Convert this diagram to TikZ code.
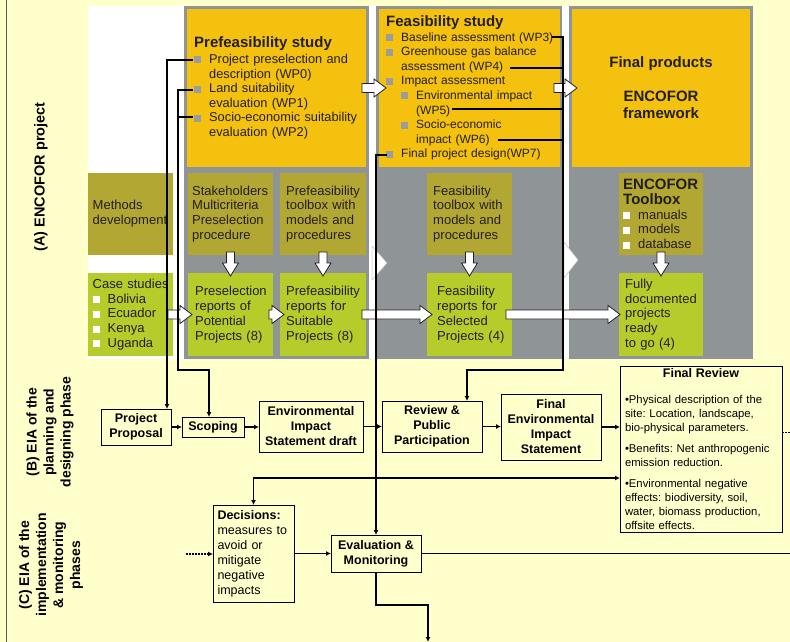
\documentclass[tikz,border=0pt]{standalone}
\usepackage{fontspec}
\setmainfont{Liberation Sans}
\usepackage{tikz}
\usetikzlibrary{arrows.meta,calc}
\usepackage{xcolor}
\frenchspacing

\definecolor{paper}{HTML}{FFFFCC}
\definecolor{colgrey}{HTML}{8F9597}
\definecolor{gold}{HTML}{F4C10F}
\definecolor{olive}{HTML}{B3A733}
\definecolor{lime}{HTML}{B6CC2B}
\definecolor{bulgrey}{HTML}{9B9D9D}
\definecolor{ink}{HTML}{231F20}

\newcommand{\gitem}{\makebox[15pt][l]{\textcolor{bulgrey}{\rule{7pt}{7pt}}}}
\newcommand{\witem}{\makebox[15pt][l]{\textcolor{white}{\rule{7pt}{7pt}}}}
\newcommand{\blockright}[2]{%
  \draw[blockarrow] let \p1=(#1), \p2=(#2) in
    (\x1,\y1+4.5pt) -- (\x2-12pt,\y1+4.5pt) -- (\x2-12pt,\y1+9pt) -- (\x2,\y1)
    -- (\x2-12pt,\y1-9pt) -- (\x2-12pt,\y1-4.5pt) -- (\x1,\y1-4.5pt) -- cycle;}
\newcommand{\blockdown}[2]{%
  \draw[blockarrow] let \p1=(#1), \p2=(#2) in
    (\x1-4pt,\y1) -- (\x1-4pt,\y2+13pt) -- (\x1-8pt,\y2+13pt) -- (\x1,\y2)
    -- (\x1+8pt,\y2+13pt) -- (\x1+4pt,\y2+13pt) -- (\x1+4pt,\y1) -- cycle;}

\begin{document}
\begin{tikzpicture}[x=1pt,y=-1pt,>={Latex[length=5pt,width=5pt]},
  panel/.style={anchor=north west,inner sep=0pt,outer sep=0pt},
  colbox/.style={panel,fill=colgrey},
  goldbox/.style={panel,fill=gold},
  olivebox/.style={panel,fill=olive,minimum height=82pt},
  limebox/.style={panel,fill=lime,minimum height=83pt},
  txt/.style={anchor=west,inner sep=0pt,text width=170pt,align=left,text=ink,
    font=\fontsize{13}{14.8}\selectfont},
  goldtxt/.style={txt,font=\fontsize{12}{14.6}\selectfont},
  eiabox/.style={panel,draw=black,line width=1pt,fill=paper,align=center,
    font=\bfseries\fontsize{12.5}{15}\selectfont},
  wire/.style={line width=1.5pt},
  blockarrow/.style={fill=white,draw=ink,line width=0.8pt},
  sidelabel/.style={rotate=90,align=center,font=\bfseries\fontsize{14}{17}\selectfont}]
\useasboundingbox (0,0) rectangle (790,642);
\fill[paper] (0,0) rectangle (790,642);
\draw[gray!70!black,line width=0.8pt] (6,0) -- (6,642);

% (A) project area
\fill[white] (88,6) rectangle (753,359);
\node[colbox,minimum width=185pt,minimum height=353pt] (col1) at (184,6) {};
\node[colbox,minimum width=186pt,minimum height=353pt] (col2) at (376,6) {};
\node[colbox,minimum width=184pt,minimum height=353pt] (col3) at (569,6) {};
\filldraw[fill=white,draw=gray!45,line width=0.5pt] (372,246) -- (387,263) -- (372,280) -- cycle;
\filldraw[fill=white,draw=gray!45,line width=0.5pt] (564,242) -- (578,260) -- (564,278) -- cycle;

\node[goldbox,minimum width=179pt,minimum height=158pt] (pre) at (187,9) {};
\node[goldbox,minimum width=181pt,minimum height=158pt] (feas) at (379,9) {};
\node[goldbox,minimum width=178pt,minimum height=158pt] (fin) at (572,9) {};

\node[goldtxt,font=\fontsize{12.8}{14.6}\selectfont] (pre-t) at ([xshift=7pt]pre.west) {%
  {\fontsize{15}{16}\selectfont\bfseries Prefeasibility study}\\[1pt]
  \gitem Project preselection and\\
  \hspace*{15pt}description (WP0)\\
  \gitem Land suitability\\
  \hspace*{15pt}evaluation (WP1)\\
  \gitem Socio-economic suitability\\
  \hspace*{15pt}evaluation (WP2)};
\node[goldtxt] (feas-t) at ([xshift=7pt]feas.west) {%
  {\fontsize{15}{16}\selectfont\bfseries Feasibility study}\\
  \gitem Baseline assessment (WP3)\\
  \gitem Greenhouse gas balance\\
  \hspace*{15pt}assessment (WP4)\\
  \gitem Impact assessment\\
  \hspace*{15pt}\gitem Environmental impact\\
  \hspace*{30pt}(WP5)\\
  \hspace*{15pt}\gitem Socio-economic\\
  \hspace*{30pt}impact (WP6)\\
  \gitem Final project design(WP7)};
\node[align=center,text=ink,font=\bfseries\fontsize{15}{17}\selectfont] (fin-t) at (fin.center)
  {Final products\\[17pt]ENCOFOR\\framework};

\node[olivebox,minimum width=85pt] (methods) at (88,173) {};
\node[olivebox,minimum width=85pt] (stake) at (188,173) {};
\node[olivebox,minimum width=86pt] (pretool) at (280,173) {};
\node[olivebox,minimum width=85pt] (feastool) at (427,173) {};
\node[olivebox,minimum width=84pt] (enctool) at (619,173) {};
\node[limebox,minimum width=85pt] (cases) at (88,273) {};
\node[limebox,minimum width=85pt] (presel) at (188,273) {};
\node[limebox,minimum width=86pt] (prerep) at (280,273) {};
\node[limebox,minimum width=85pt] (feasrep) at (427,273) {};
\node[limebox,minimum width=84pt] (fully) at (619,273) {};

\node[txt] (methods-t) at ([xshift=4.5pt]methods.west) {Methods\\development};
\node[txt] (stake-t) at ([xshift=4pt]stake.west) {Stakeholders\\Multicriteria\\Preselection\\procedure};
\node[txt] (pretool-t) at ([xshift=6pt]pretool.west) {Prefeasibility\\toolbox with\\models and\\procedures};
\node[txt] (feastool-t) at ([xshift=6pt]feastool.west) {Feasibility\\toolbox with\\models and\\procedures};
\node[txt] (enctool-t) at ([xshift=4pt]enctool.west) {%
  {\bfseries\fontsize{15}{17}\selectfont ENCOFOR\\Toolbox}\\
  \witem manuals\\ \witem models\\ \witem database};
\node[txt] (cases-t) at ([xshift=4.5pt]cases.west) {%
  Case studies\\ \witem Bolivia\\ \witem Ecuador\\ \witem Kenya\\ \witem Uganda};
\node[txt] (presel-t) at ([xshift=7pt]presel.west) {Preselection\\reports of\\Potential\\Projects (8)};
\node[txt] (prerep-t) at ([xshift=6pt]prerep.west) {Prefeasibility\\reports for\\Suitable\\Projects (8)};
\node[txt] (feasrep-t) at ([xshift=10pt]feasrep.west) {Feasibility\\reports for\\Selected\\Projects (4)};
\node[txt] (fully-t) at ([xshift=6pt]fully.west) {Fully\\documented\\projects\\ready\\to go (4)};

\blockright{[xshift=-4pt]pre.east}{[xshift=7pt]feas.west}
\blockright{[xshift=-6pt]feas.east}{[xshift=5pt]fin.west}
\blockdown{[yshift=3pt]stake.south}{[yshift=-3pt]presel.north}
\blockdown{[yshift=3pt]pretool.south}{[yshift=-3pt]prerep.north}
\blockdown{[yshift=3pt]feastool.south}{[yshift=-3pt]feasrep.north}
\blockdown{[yshift=3pt]enctool.south}{[yshift=-3pt]fully.north}
\blockright{[xshift=-5pt]cases.east}{[xshift=4pt]presel.west}
\blockright{[xshift=-4pt]presel.east}{[xshift=4pt]prerep.west}
\blockright{[xshift=-4pt]prerep.east}{[xshift=5pt]feasrep.west}
\blockright{[xshift=-6pt]feasrep.east}{[xshift=1pt]fully.west}

% (B) and (C) EIA boxes
\node[eiabox,minimum width=70pt,minimum height=36pt] (pp) at (101,409) {Project\\Proposal};
\node[eiabox,minimum width=62pt,minimum height=20pt] (scoping) at (182,417) {Scoping};
\node[eiabox,minimum width=104pt,minimum height=51pt] (eisd) at (259,401) {Environmental\\Impact\\Statement draft};
\node[eiabox,minimum width=100pt,minimum height=51pt] (review) at (382,401) {Review \&\\Public\\Participation};
\node[eiabox,minimum width=100pt,minimum height=66pt] (feis) at (501,394) {Final\\Environmental\\Impact\\Statement};
\node[eiabox,minimum width=162pt,minimum height=166pt,inner xsep=5pt,text width=152pt,align=left,
  font=\fontsize{11.3}{14}\selectfont] (fr) at (620,366) {%
  {\centering\bfseries\fontsize{12.5}{15}\selectfont Final Review\par}\vspace{12pt}
  \textbullet Physical description of the\\site: Location, landscape,\\bio-physical parameters.\par\vspace{7pt}
  \textbullet Benefits: Net anthropogenic\\emission reduction.\par\vspace{7pt}
  \textbullet Environmental negative\\effects: biodiversity, soil,\\water, biomass production,\\offsite effects.};
\node[eiabox,minimum width=81pt,minimum height=97pt,inner xsep=4.5pt,text width=72pt,align=left,
  font=\fontsize{12.5}{15}\selectfont] (dec) at (213,505) {%
  {\bfseries Decisions:}\\measures to\\avoid or\\mitigate\\negative\\impacts};
\node[eiabox,minimum width=90pt,minimum height=37pt] (eval) at (331,535) {Evaluation \&\\Monitoring};

\node[sidelabel,font=\bfseries\fontsize{14.5}{17}\selectfont] (lblA) at (41,177) {(A) ENCOFOR project};
\node[sidelabel] (lblB) at (50,432) {(B) EIA of the\\planning and\\designing phase};
\node[sidelabel] (lblC) at (51,565) {(C) EIA of the\\implementation\\\& monitoring\\phases};

% links from the work packages
\coordinate (wp0) at (193,60);
\coordinate (wp1) at (193,90);
\coordinate (wp2) at (193,117);
\coordinate (j1) at (178,370);
\coordinate (wp3) at (552,37);
\coordinate (wp4) at (510,68);
\coordinate (wp5) at (452,109);
\coordinate (wp6) at (498,140);
\coordinate (j2) at (563,370);
\coordinate (wp7) at (387,155);
\coordinate (j3) at (376,478);
\coordinate (dotin) at (186,554);
\coordinate (frout) at (790,432);
\coordinate (outr) at (790,553.5);
\coordinate (outb) at (428,642);

\draw[wire,->] (wp0) -| ([xshift=-4pt]pp.north east);
\draw[wire,->] (wp1) -| (j1) -| ([xshift=-4pt]scoping.north);
\draw[wire] (wp2) -- (wp2 -| j1);
\draw[wire,->] (wp3) -| (j2) -| ([xshift=-15pt]review.north east);
\draw[wire] (wp4) -- (wp4 -| j2);
\draw[wire] (wp5) -- (wp5 -| j2);
\draw[wire] (wp6) -- (wp6 -| j2);
\draw[wire,->] (wp7) -| (eval.north);
\draw[wire,->] (j3) -| (dec.north);
\draw[wire,->] (j3) -- (j3 -| fr.west);

\draw[wire,->] (pp.east) -- (scoping.west);
\draw[wire,->] (scoping.east) -- (scoping.east -| eisd.west);
\draw[wire,->] (eisd.east) -- (eisd.east -| review.west);
\draw[wire,->] (review.east) -- (review.east -| feis.west);
\draw[wire,->] (feis.east) -- (feis.east -| fr.west);
\draw[line width=1pt,dash pattern=on 1.5pt off 1.5pt] (fr.east |- frout) -- (frout);
\draw[wire,dash pattern=on 1.5pt off 1.5pt,->] (dotin) -- (dotin -| dec.west);
\draw[wire,->] (dec.east |- eval.west) -- (eval.west);
\draw[wire] (eval.east) -- (outr);
\draw[wire,->] (eval.south) -- ++(0,33) -| (outb);
\end{tikzpicture}
\end{document}
